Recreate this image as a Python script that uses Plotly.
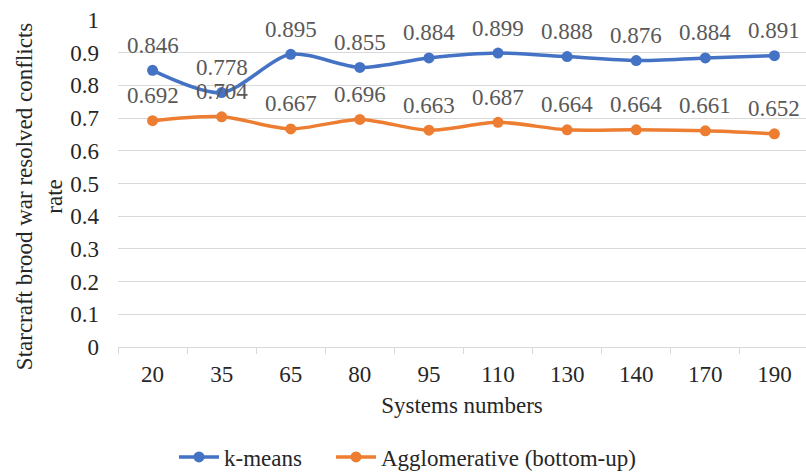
import plotly.graph_objects as go

# Systems tested (categorical x axis)
systems = ["20", "35", "65", "80", "95", "110", "130", "140", "170", "190"]

# Resolved-conflicts rate per clustering method
kmeans = [0.846, 0.778, 0.895, 0.855, 0.884, 0.899, 0.888, 0.876, 0.884, 0.891]
agglomerative = [0.692, 0.704, 0.667, 0.696, 0.663, 0.687, 0.664, 0.664, 0.661, 0.652]

y_ticks = [0, 0.1, 0.2, 0.3, 0.4, 0.5, 0.6, 0.7, 0.8, 0.9, 1]
y_tick_text = ["0", "0.1", "0.2", "0.3", "0.4", "0.5", "0.6", "0.7", "0.8", "0.9", "1"]

FONT = "Liberation Serif"
TEXT = "#262626"
LABEL = "#595959"
GRID = "#d9d9d9"
BLUE = "#4472C4"
ORANGE = "#ED7D31"
SIZE = 23
W, H = 806, 473

fig = go.Figure()

# name, values, colour, legend id, legend left edge (px)
series = [
    ("k-means", kmeans, BLUE, "legend", 174),
    ("Agglomerative (bottom-up)", agglomerative, ORANGE, "legend2", 331),
]

for name, values, color, legend_id, _ in series:
    fig.add_trace(go.Scatter(
        x=systems, y=values, name=name, mode="lines+markers",
        line=dict(color=color, width=3.5, shape="spline", smoothing=0.8),
        marker=dict(color=color, size=11),
        legend=legend_id,
    ))
    # value labels above each point (category axis: position by index)
    for i, yv in enumerate(values):
        fig.add_annotation(
            x=i, y=yv, text=f"{yv:.3f}", showarrow=False,
            yshift=25, font=dict(family=FONT, size=SIZE, color=LABEL),
        )

fig.add_annotation(
    xref="paper", yref="paper", x=-0.113, y=0.459,
    xanchor="center", yanchor="middle",
    text="Starcraft brood war resolved conflicts<br>rate",
    textangle=-90, showarrow=False,
    font=dict(family=FONT, size=SIZE, color=TEXT),
)

legend_style = dict(
    orientation="h", xref="container", yref="container",
    xanchor="left", y=1 - 457 / H, yanchor="middle",
    font=dict(family=FONT, size=SIZE, color=TEXT),
    itemwidth=40, bgcolor="rgba(0,0,0,0)",
)

fig.update_layout(
    width=W, height=H,
    margin=dict(l=118, r=0, t=20, b=126, autoexpand=False),
    paper_bgcolor="white", plot_bgcolor="white",
    font=dict(family=FONT, size=SIZE, color=TEXT),
    showlegend=True,
    legend=dict(x=series[0][4] / W, **legend_style),
    legend2=dict(x=series[1][4] / W, **legend_style),
    xaxis=dict(
        type="category", range=[-0.5, 9.457], automargin=False,
        showgrid=False, showline=True, linecolor=GRID, linewidth=1,
        ticks="outside", tickson="boundaries", ticklen=6, tickcolor=GRID,
        ticklabelstandoff=6,
        tickfont=dict(family=FONT, size=SIZE, color=TEXT),
        title=dict(text="Systems numbers", standoff=11,
                   font=dict(family=FONT, size=SIZE, color=TEXT)),
    ),
    yaxis=dict(
        range=[0, 1], tickvals=y_ticks, ticktext=y_tick_text, automargin=False,
        showgrid=True, gridcolor=GRID, gridwidth=1,
        zeroline=False, showline=False,
        ticklabelstandoff=18,
        tickfont=dict(family=FONT, size=SIZE, color=TEXT),
    ),
)

fig.write_html("out.html")
